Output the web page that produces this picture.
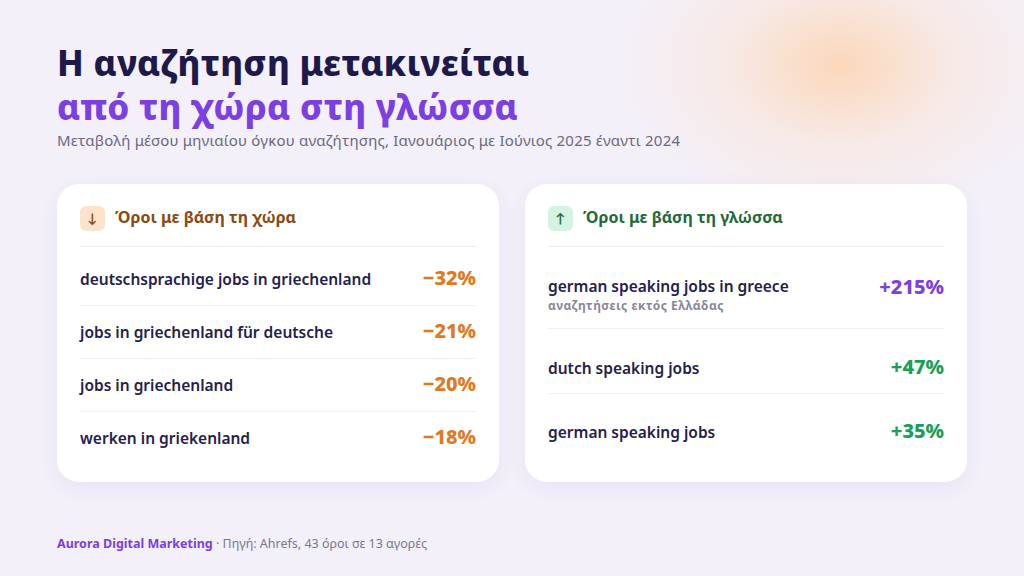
<!DOCTYPE html>
<html><head><meta charset="utf-8">
<script src="https://cdn.jsdelivr.net/npm/chart.js@4/dist/chart.umd.min.js"></script>
<style>
body{margin:0;width:1024px;height:576px;overflow:hidden;font-family:"Noto Sans",Lato,sans-serif;
background:radial-gradient(ellipse 230px 160px at 840px 65px,rgba(255,205,160,.7) 0,rgba(255,222,195,.35) 50%,rgba(243,240,250,0) 100%),#f3f0fa;position:relative}
h1{position:absolute;left:57px;top:41px;margin:0;font-size:35px;line-height:44px;font-weight:800;color:#1d1a4a;letter-spacing:.3px}
h1 span{color:#7b3fe4}
.sub{position:absolute;left:57px;top:130px;font-size:15px;color:#6b6880;letter-spacing:.2px}
.card{position:absolute;top:184px;width:442px;height:298px;background:#fff;border-radius:22px;box-shadow:0 6px 20px rgba(80,60,140,.07)}
.hd{position:absolute;left:23px;top:22px;right:23px;height:40px;border-bottom:1px solid #eeecf3;font-weight:700;font-size:16px}
.ic{display:inline-block;width:25px;height:25px;border-radius:6px;text-align:center;line-height:25px;font-size:13px;margin-right:10px;vertical-align:middle}
.row{position:absolute;left:23px;right:23px;border-bottom:1px solid #f0eef5;color:#24214d;font-weight:600;font-size:15.5px}
.row:last-child{border-bottom:none}
.v{position:absolute;right:0;font-size:20px;font-weight:800}
.s{font-size:12px;color:#8a8799;font-weight:700;letter-spacing:.5px}
.foot{position:absolute;left:57px;top:535px;font-size:12.5px;color:#7a778a}
.foot b{color:#7b3fe4}
</style></head><body>
<h1>Η αναζήτηση μετακινείται<br><span>από τη χώρα στη γλώσσα</span></h1>
<div class="sub">Μεταβολή μέσου μηνιαίου όγκου αναζήτησης, Ιανουάριος με Ιούνιος 2025 έναντι 2024</div>
<div class="card" id="left" style="left:57px"></div>
<div class="card" id="right" style="left:525px"></div>
<div class="foot"><b>Aurora Digital Marketing</b> · Πηγή: Ahrefs, 43 όροι σε 13 αγορές</div>
<script>
const countryTerms = ['deutschsprachige jobs in griechenland', 'jobs in griechenland für deutsche', 'jobs in griechenland', 'werken in griekenland'];
const countryChange = [-32, -21, -20, -18];
const languageTerms = ['german speaking jobs in greece', 'dutch speaking jobs', 'german speaking jobs'];
const languageNotes = ['αναζητήσεις εκτός Ελλάδας', '', ''];
const languageChange = [215, 47, 35];

function fmt(v) { return (v < 0 ? '\u2212' : '+') + Math.abs(v) + '%'; }

function buildCard(id, title, arrow, icBg, hdColor, terms, vals, notes, colors, tops, heights, dy) {
    const el = document.getElementById(id);
    let html = `<div class="hd" style="color:${hdColor}"><span class="ic" style="background:${icBg}">${arrow}</span>${title}</div>`;
    terms.forEach((t, i) => {
        const note = notes && notes[i] ? `<div class="s">${notes[i]}</div>` : '';
        html += `<div class="row" style="top:${tops[i]}px;height:${heights[i]}px">
            <div style="position:absolute;left:0;top:${note ? 22 + dy : (heights[i] / 2 - 11 + dy)}px">${t}${note}</div>
            <div class="v" style="top:${note ? 20 + dy : heights[i] / 2 - 15 + dy}px;color:${colors[i]}">${fmt(vals[i])}</div></div>`;
    });
    el.innerHTML = html;
}
buildCard('left', 'Όροι με βάση τη χώρα', '↓', '#fde3cc', '#8a4a12', countryTerms, countryChange, null,
    countryChange.map(() => '#e07a1f'), [68, 121, 174, 227], [53, 53, 53, 53], 0);
buildCard('right', 'Όροι με βάση τη γλώσσα', '↑', '#d4f3e0', '#1f6b3a', languageTerms, languageChange, languageNotes,
    ['#7b3fe4', '#17a05a', '#17a05a'], [62, 144, 209], [82, 65, 64], 7);
</script>
</body></html>
